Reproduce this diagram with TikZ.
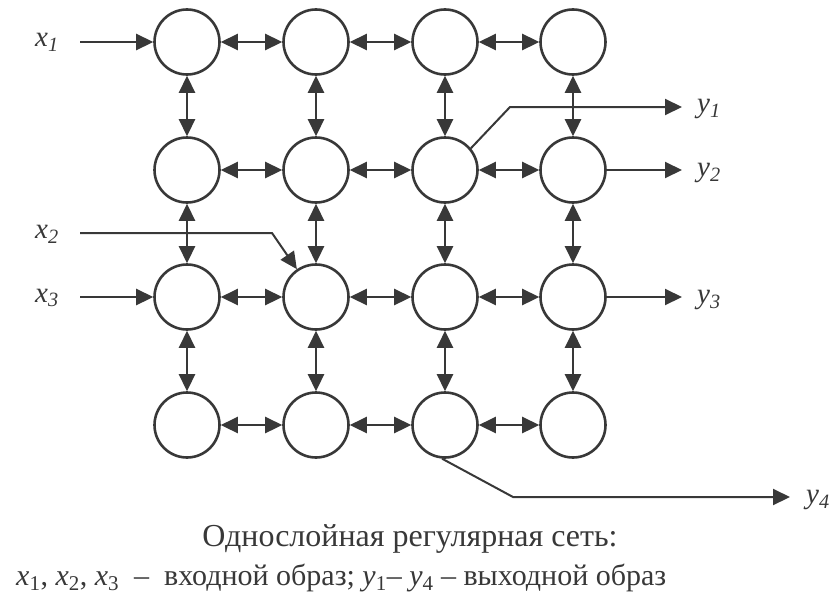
\documentclass[tikz,border=0pt]{standalone}
\usepackage{fontspec}
\setmainfont{Liberation Serif}
\usetikzlibrary{arrows.meta}
\definecolor{ink}{HTML}{383838}
\begin{document}
\begin{tikzpicture}[x=1pt,y=-1pt,
  neuron/.style={circle,draw=ink,line width=2.6pt,minimum size=65pt,inner sep=0pt},
  tipstyle/.style={-{Triangle[length=17pt,width=16pt]}},
  dbl/.style={draw=ink,line width=2.6pt,{Triangle[length=17pt,width=16pt]}-{Triangle[length=17pt,width=16pt]}},
  arr/.style={draw=ink,line width=2.6pt,tipstyle},
  thin/.style={draw=ink,line width=2pt,tipstyle},
  lbl/.style={font=\fontsize{29}{30}\selectfont\itshape,inner sep=0pt,text=ink}]
\useasboundingbox (0,0) rectangle (834,597);
\foreach \c/\x in {1/187,2/316,3/445,4/573}{
  \foreach \r/\y in {1/42,2/170,3/297,4/425}{
    \node[neuron] (n\r\c) at (\x,\y) {};
  }
}
% horizontal links
\foreach \r in {1,2,3,4}{
  \draw[dbl] (n\r1) -- (n\r2);
  \draw[dbl] (n\r2) -- (n\r3);
  \draw[dbl] (n\r3) -- (n\r4);
}
% vertical links
\foreach \c in {1,2,3,4}{
  \draw[dbl] (n1\c) -- (n2\c);
  \draw[dbl] (n2\c) -- (n3\c);
  \draw[dbl] (n3\c) -- (n4\c);
}
% inputs
\node[lbl] (x1) at (47,42) {x\textsubscript{1}};
\node[lbl] (x2) at (47,234) {x\textsubscript{2}};
\node[lbl] (x3) at (47,298) {x\textsubscript{3}};
\coordinate (x1s) at (80,42);
\coordinate (x2s) at (80,233);
\coordinate (x3s) at (80,297);
\coordinate (x2k) at (272,233);
\draw[arr] (x1s) -- (n11);
\draw[thin] (x2s) -- (x2k) -- (n32);
\draw[arr] (x3s) -- (n31);
% outputs
\coordinate (y1k) at (510,107);
\coordinate (y1e) at (682,107);
\coordinate (y2e) at (682,170);
\coordinate (y3e) at (682,297);
\coordinate (y4k) at (513,497);
\coordinate (y4e) at (790,497);
\draw[thin] (n23.40) -- (y1k) -- (y1e);
\draw[thin] (n24) -- (y2e);
\draw[thin] (n34) -- (y3e);
\draw[thin] (n43.-95) -- (y4k) -- (y4e);
\node[lbl,anchor=west] (y1) at (697,109) {y\textsubscript{1}};
\node[lbl,anchor=west] (y2) at (697,173) {y\textsubscript{2}};
\node[lbl,anchor=west] (y3) at (697,300) {y\textsubscript{3}};
\node[lbl,anchor=west] (y4) at (806,500) {y\textsubscript{4}};
% caption
\node[font=\fontsize{32}{34}\selectfont,text=ink,inner sep=0pt,anchor=base] (cap1) at (410,546) {Однослойная регулярная сеть:};
\node[font=\fontsize{30}{31}\selectfont,text=ink,inner sep=0pt,anchor=base west] (cap2) at (16,585)
  {\textit{x}\textsubscript{1}, \textit{x}\textsubscript{2}, \textit{x}\textsubscript{3}\ \ – \ входной образ; \textit{y}\textsubscript{1}– \textit{y}\textsubscript{4} – выходной образ};
\end{tikzpicture}
\end{document}
